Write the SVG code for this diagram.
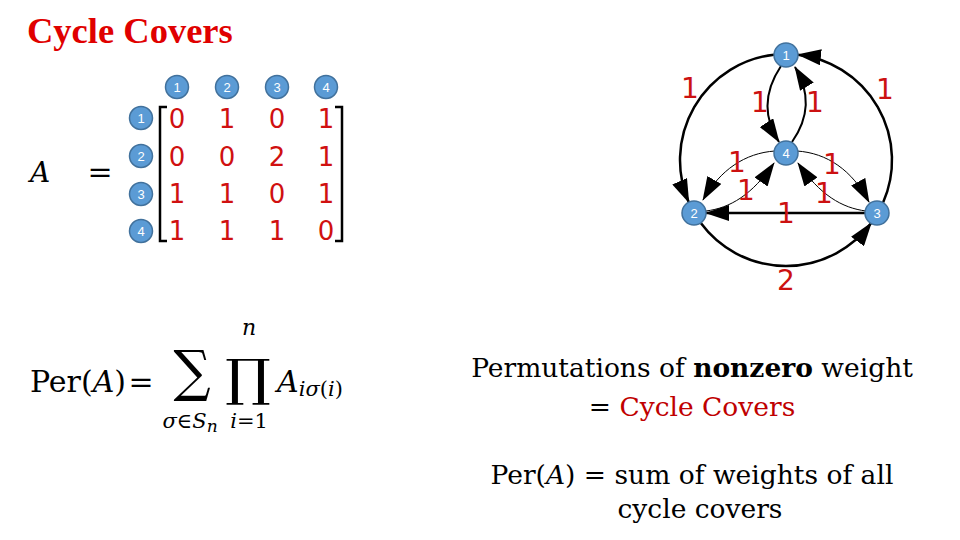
<svg xmlns="http://www.w3.org/2000/svg" width="960" height="540" viewBox="0 0 960 540">
<style>
.bg{fill:#ffffff}
.title{font-family:"Liberation Serif",serif;font-weight:bold;font-size:36.5px;fill:#E00000}
.nc{fill:#5B9BD5;stroke:#41719C;stroke-width:1.5}
.nt{font-family:"Liberation Sans",Arial,sans-serif;font-size:13px;fill:#ffffff;text-anchor:middle}
.md{font-family:"DejaVu Sans",sans-serif;font-size:26px;fill:#D01010;text-anchor:middle}
.br{fill:none;stroke:#000;stroke-width:2.5}
.math{font-family:"DejaVu Serif",serif;fill:#000}
.lbl{font-family:"DejaVu Sans",sans-serif;font-size:28px;fill:#CC1111;text-anchor:middle}
.thick{fill:none;stroke:#000;stroke-width:2.5}
.mid{fill:none;stroke:#000;stroke-width:2}
.thin{fill:none;stroke:#000;stroke-width:1}
.body{font-family:"DejaVu Serif",serif;font-size:26.5px;fill:#000;text-anchor:middle}
.red{fill:#C00000}
</style>
<defs>
<marker id="arr" viewBox="0 0 24 16" markerWidth="24" markerHeight="16" refX="23" refY="8" orient="auto" markerUnits="userSpaceOnUse">
<path d="M0,0 L24,8 L0,16 z" fill="#000"/>
</marker>
</defs>
<rect class="bg" x="0" y="0" width="960" height="540"/>
<text class="title" x="27" y="43">Cycle Covers</text>

<g id="matrix">
<text class="math" x="30" y="182" font-size="28" font-style="italic">A</text>
<text class="math" x="100" y="182" font-size="30" text-anchor="middle">=</text>
<path class="br" d="M167,107 L160,107 L160,241 L167,241"/>
<path class="br" d="M335,107 L342,107 L342,241 L335,241"/>
<g id="col-labels">
<circle class="nc" cx="177" cy="87" r="11.5"/><text class="nt" x="177" y="92">1</text>
<circle class="nc" cx="227" cy="87" r="11.5"/><text class="nt" x="227" y="92">2</text>
<circle class="nc" cx="277" cy="87" r="11.5"/><text class="nt" x="277" y="92">3</text>
<circle class="nc" cx="326" cy="87" r="11.5"/><text class="nt" x="326" y="92">4</text>
</g>
<g id="row-labels">
<circle class="nc" cx="141" cy="118" r="11.5"/><text class="nt" x="141" y="123">1</text>
<circle class="nc" cx="141" cy="156" r="11.5"/><text class="nt" x="141" y="161">2</text>
<circle class="nc" cx="141" cy="194" r="11.5"/><text class="nt" x="141" y="199">3</text>
<circle class="nc" cx="141" cy="231" r="11.5"/><text class="nt" x="141" y="236">4</text>
</g>
<g id="entries">
<text class="md" x="177" y="128">0</text><text class="md" x="227" y="128">1</text><text class="md" x="277" y="128">0</text><text class="md" x="326" y="128">1</text>
<text class="md" x="177" y="166">0</text><text class="md" x="227" y="166">0</text><text class="md" x="277" y="166">2</text><text class="md" x="326" y="166">1</text>
<text class="md" x="177" y="203">1</text><text class="md" x="227" y="203">1</text><text class="md" x="277" y="203">0</text><text class="md" x="326" y="203">1</text>
<text class="md" x="177" y="240">1</text><text class="md" x="227" y="240">1</text><text class="md" x="277" y="240">1</text><text class="md" x="326" y="240">0</text>
</g>
</g>

<g id="formula">
<text class="math" x="30" y="392" font-size="30">Per(<tspan font-style="italic">A</tspan>)</text>
<text class="math" x="141" y="392" font-size="30" text-anchor="middle">=</text>
<text class="math" x="192" y="390" font-size="56" text-anchor="middle" font-family="DejaVu Sans" transform="translate(192,0) scale(0.93,1) translate(-192,0)">∑</text>
<text class="math" x="248" y="395" font-size="50" text-anchor="middle" font-family="DejaVu Sans" transform="translate(248,0) scale(1.15,1) translate(-248,0)">∏</text>
<text class="math" x="249" y="335" font-size="22" font-style="italic" text-anchor="middle">n</text>
<text class="math" x="190" y="428" font-size="21" font-style="italic" text-anchor="middle">σ<tspan font-style="normal">∈</tspan>S<tspan font-size="17" dy="4">n</tspan></text>
<text class="math" x="249" y="428" font-size="21" text-anchor="middle"><tspan font-style="italic">i</tspan>=1</text>
<text class="math" x="277" y="392" font-size="30" font-style="italic">A<tspan font-size="21" dy="4">iσ<tspan font-style="normal">(</tspan>i<tspan font-style="normal">)</tspan></tspan></text>
</g>

<g id="connectors">
<path id="e12" class="thick" d="M774,54.7 A106,106 0 0 0 688.8,202.3" marker-end="url(#arr)"/>
<path id="e31" class="thick" d="M883.2,202.3 A106,106 0 0 0 798,54.7" marker-end="url(#arr)"/>
<path id="e23" class="thick" d="M700.8,223 A106,106 0 0 0 871.2,223" marker-end="url(#arr)"/>
<path id="e32" class="thick" d="M865,213 L706,213" marker-end="url(#arr)"/>
<path id="e14" class="mid" d="M781,66 Q755,105 779,142" marker-end="url(#arr)"/>
<path id="e41" class="mid" d="M792,142 Q818,105 795,67" marker-end="url(#arr)"/>
<path id="e42" class="thin" d="M775,151 C745,153 720,170 703,200" marker-end="url(#arr)"/>
<path id="e24" class="thin" d="M706,211 C730,208 752,195 774,163" marker-end="url(#arr)"/>
<path id="e43" class="thin" d="M797,151 C827,153 852,170 869,202" marker-end="url(#arr)"/>
<path id="e34" class="thin" d="M866,211 C842,208 820,195 798,163" marker-end="url(#arr)"/>
</g>
<g id="edge-labels">
<text class="lbl" x="690" y="98">1</text>
<text class="lbl" x="885" y="99">1</text>
<text class="lbl" x="760" y="112">1</text>
<text class="lbl" x="815" y="112">1</text>
<text class="lbl" x="737" y="172">1</text>
<text class="lbl" x="746" y="200">1</text>
<text class="lbl" x="832" y="174">1</text>
<text class="lbl" x="824" y="203">1</text>
<text class="lbl" x="786" y="223">1</text>
<text class="lbl" x="786" y="290">2</text>
</g>
<g id="node1"><circle class="nc" cx="786" cy="55" r="12"/><text class="nt" x="786" y="60">1</text></g>
<g id="node2"><circle class="nc" cx="694" cy="213" r="12"/><text class="nt" x="694" y="218">2</text></g>
<g id="node3"><circle class="nc" cx="877" cy="213" r="12"/><text class="nt" x="877" y="218">3</text></g>
<g id="node4"><circle class="nc" cx="786" cy="153" r="12"/><text class="nt" x="786" y="158">4</text></g>

<g id="notes">
<text class="body" x="692" y="377">Permutations of <tspan font-weight="bold">nonzero</tspan> weight</text>
<text class="body" x="692" y="416">= <tspan class="red">Cycle Covers</tspan></text>
<text class="body" x="692" y="484">Per(<tspan font-style="italic">A</tspan>) = sum of weights of all</text>
<text class="body" x="700" y="518">cycle covers</text>
</g>
</svg>
